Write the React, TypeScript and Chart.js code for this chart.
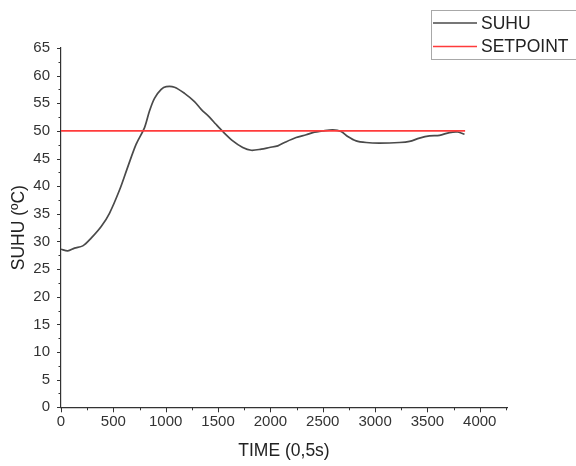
import React, { useEffect, useRef } from "react";
import { Chart, registerables } from "chart.js";

Chart.register(...registerables);

const timeValues = [
  0, 65, 129, 208, 288, 384, 463, 559, 638, 718, 798, 845, 893, 957, 1005, 1084,
  1180, 1275, 1339, 1418, 1480, 1545, 1641, 1736, 1817, 1912, 1991, 2071, 2135,
  2246, 2342, 2405, 2500, 2596, 2676, 2739, 2819, 2915, 3042, 3233, 3329, 3424,
  3520, 3615, 3711, 3790, 3854,
];
const suhuValues = [
  28.6, 28.3, 28.8, 29.2, 30.6, 32.7, 35.1, 39.3, 43.5, 47.6, 50.6, 53.6, 55.9,
  57.5, 58.0, 57.9, 56.8, 55.3, 53.9, 52.5, 51.2, 49.9, 48.2, 47.0, 46.5, 46.7,
  47.0, 47.3, 47.9, 48.8, 49.3, 49.7, 50.0, 50.2, 49.9, 49.0, 48.2, 47.9, 47.8,
  47.9, 48.1, 48.7, 49.1, 49.2, 49.7, 49.8, 49.4,
];
const setpointTimes = [0, 3860];
const setpointValues = [50, 50];

const xMajorTicks = [0, 500, 1000, 1500, 2000, 2500, 3000, 3500, 4000];
const yMajorTicks = [0, 5, 10, 15, 20, 25, 30, 35, 40, 45, 50, 55, 60, 65];
const legendLabels = ["SUHU", "SETPOINT"];

const FONT = "'Liberation Sans', Arial, sans-serif";
const SUHU_COLOR = "#4a4a4a";
const SP_COLOR = "#ff3b3b";
const AXIS_COLOR = "#333333";

const tickPlugin = {
  id: "minorTicks",
  afterDraw(chart: any) {
    const ctx = chart.ctx;
    const xs = chart.scales.x;
    const ys = chart.scales.y;
    const area = chart.chartArea;
    ctx.save();
    ctx.strokeStyle = AXIS_COLOR;
    ctx.lineWidth = 1;
    for (let v = 0; v <= xs.max; v += 250) {
      const px = Math.round(xs.getPixelForValue(v)) + 0.5;
      const major = v % 500 === 0;
      ctx.beginPath();
      ctx.moveTo(px, area.bottom);
      ctx.lineTo(px, area.bottom + (major ? 5 : 3));
      ctx.stroke();
    }
    for (let v = 0; v <= ys.max + 0.001; v += 2.5) {
      const py = Math.round(ys.getPixelForValue(v)) + 0.5;
      const major = v % 5 === 0;
      ctx.beginPath();
      ctx.moveTo(area.left, py);
      ctx.lineTo(area.left - (major ? 4 : 2.5), py);
      ctx.stroke();
    }
    // legend
    ctx.strokeStyle = "#a8a8a8";
    ctx.lineWidth = 1;
    ctx.strokeRect(431.5, 10.5, 170, 49);
    const rows = [23, 46.5];
    const colors = [SUHU_COLOR, SP_COLOR];
    ctx.font = `17.5px ${FONT}`;
    ctx.textBaseline = "middle";
    ctx.textAlign = "left";
    for (let i = 0; i < 2; i++) {
      ctx.strokeStyle = colors[i];
      ctx.lineWidth = 1.5;
      ctx.beginPath();
      ctx.moveTo(433, rows[i]);
      ctx.lineTo(477, rows[i]);
      ctx.stroke();
      ctx.fillStyle = "#222";
      ctx.fillText(legendLabels[i], 481, rows[i] + 1);
    }
    ctx.restore();
  },
};

export default function App() {
  const ref = useRef<HTMLCanvasElement | null>(null);
  useEffect(() => {
    if (!ref.current) return;
    const chart = new Chart(ref.current, {
      type: "scatter",
      data: {
        datasets: [
          {
            label: legendLabels[0],
            data: timeValues.map((t, i) => ({ x: t, y: suhuValues[i] })),
            showLine: true,
            borderColor: SUHU_COLOR,
            borderWidth: 1.7,
            pointRadius: 0,
            tension: 0.3,
            order: 1,
          },
          {
            label: legendLabels[1],
            data: setpointTimes.map((t, i) => ({ x: t, y: setpointValues[i] })),
            showLine: true,
            borderColor: SP_COLOR,
            borderWidth: 1.6,
            pointRadius: 0,
            order: 0,
          },
        ],
      },
      options: {
        responsive: false,
        animation: false,
        layout: { padding: { top: 48, right: 69, left: 0, bottom: 0 } },
        plugins: { legend: { display: false }, tooltip: { enabled: false } },
        scales: {
          x: {
            type: "linear",
            min: 0,
            max: 4260,
            afterFit: (s: any) => {
              s.height = 58.7;
            },
            afterBuildTicks: (s: any) => {
              s.ticks = xMajorTicks.map((v) => ({ value: v }));
            },
            grid: { display: false, drawTicks: false },
            border: { display: true, color: AXIS_COLOR, width: 1.2 },
            ticks: {
              padding: 6,
              maxRotation: 0,
              autoSkip: false,
              color: "#333",
              font: { size: 15, family: FONT },
              callback: (v: any) => String(v),
            },
            title: {
              display: true,
              text: "TIME (0,5s)",
              color: "#222",
              font: { size: 17.5, family: FONT },
              padding: { top: 0, bottom: 4 },
            },
          },
          y: {
            type: "linear",
            min: 0,
            max: 65,
            afterFit: (s: any) => {
              s.width = 61;
            },
            afterBuildTicks: (s: any) => {
              s.ticks = yMajorTicks.map((v) => ({ value: v }));
            },
            grid: { display: false, drawTicks: false },
            border: { display: true, color: AXIS_COLOR, width: 1.2 },
            ticks: {
              padding: 11,
              autoSkip: false,
              color: "#333",
              font: { size: 15, family: FONT },
              callback: (v: any) => String(v),
            },
            title: {
              display: true,
              text: "SUHU (ºC)",
              color: "#222",
              font: { size: 17.5, family: FONT },
              padding: { top: 9, bottom: 0 },
            },
          },
        },
      },
      plugins: [tickPlugin],
    });
    return () => chart.destroy();
  }, []);
  return (
    <div style={{ position: "absolute", left: 0, top: 0, width: 576, height: 466, background: "#fff" }}>
      <canvas ref={ref} width={576} height={466} />
    </div>
  );
}
